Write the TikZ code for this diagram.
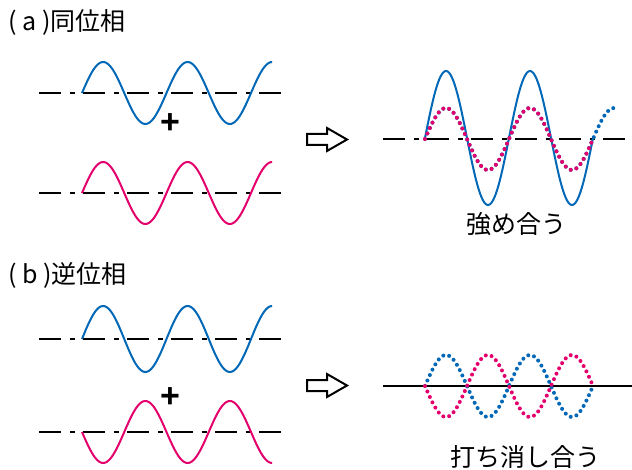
\documentclass[tikz,border=0pt]{standalone}
\usepackage{fontspec}
\setmainfont{Noto Sans CJK JP}
\newfontfamily\plusfont{Liberation Sans}
\definecolor{waveblue}{RGB}{0,104,183}
\definecolor{wavepink}{RGB}{228,0,108}
\tikzset{
  axisdash/.style={line width=1pt, dash pattern=on 11pt off 4.5pt on 2.5pt off 4pt},
  bluewave/.style={waveblue, line width=1pt},
  pinkwave/.style={wavepink, line width=1pt},
  bluedots/.style={waveblue, line width=2pt, line cap=round, dash pattern=on 0pt off 3pt},
  pinkdots/.style={wavepink, line width=2pt, line cap=round, dash pattern=on 0pt off 3pt},
  fatarrow/.style={line width=1pt, fill=white, line join=miter},
  jtext/.style={font=\fontsize{12.5}{14}\selectfont, inner sep=0pt},
  plus/.style={font=\plusfont\bfseries\fontsize{17}{17}\selectfont, inner sep=0pt}
}
\begin{document}
\begin{tikzpicture}[x=0.5pt,y=-0.5pt]
        \useasboundingbox (0,0) rectangle (632,470);
        % (a) axes
        \draw[axisdash] (39,93) -- (289,93);
        \draw[axisdash] (39,193) -- (289,193);
        \draw[axisdash] (383,139) -- (632,139);
        % (a) waves
        \draw[bluewave] plot[domain=0:2.25, samples=120] ({82+84.5*\x},{93-31*sin(360*\x)});
        \draw[pinkwave] plot[domain=0:2.25, samples=120] ({82+84.5*\x},{193-31*sin(360*\x)});
        \draw[bluewave] plot[domain=0:2, samples=120] ({425+84*\x},{138-67*sin(360*\x)});
        \draw[bluedots] plot[domain=0:2.25, samples=120] ({425+84*\x},{139-31*sin(360*\x)});
        \draw[pinkdots] plot[domain=0:2, samples=120] ({425+84*\x},{139-31*sin(360*\x)});
        % (a) arrow
        \draw[fatarrow] (307,134) -- (327,134) -- (327,128) -- (347,139.5) -- (327,151) -- (327,145) -- (307,145) -- cycle;

        % (b) axes
        \draw[axisdash] (39,339) -- (289,339);
        \draw[axisdash] (39,432) -- (289,432);
        \draw[line width=1pt] (383,386) -- (632,386);
        % (b) waves
        \draw[bluewave] plot[domain=0:2.25, samples=120] ({82+84.5*\x},{339-33*sin(360*\x)});
        \draw[pinkwave] plot[domain=0:2.25, samples=120] ({82+84.5*\x},{432+31*sin(360*\x)});
        \draw[bluedots] plot[domain=0:2, samples=120] ({425+84*\x},{386-31*sin(360*\x)});
        \draw[pinkdots] plot[domain=0:2, samples=120] ({425+84*\x},{386+31*sin(360*\x)});
        % (b) arrow
        \draw[fatarrow] (307,380) -- (327,380) -- (327,374) -- (347,385.5) -- (327,397) -- (327,391) -- (307,391) -- cycle;

        % letters
        \node[jtext, anchor=west] (titlea) at (8,22) {( a )同位相};
        \node[jtext, anchor=west] (titleb) at (8,275) {( b )逆位相};
        \node[plus] (plusa) at (170,124) {+};
        \node[plus] (plusb) at (170,398) {+};
        \node[jtext] (strong) at (516,224) {強め合う};
        \node[jtext] (cancel) at (525,457) {打ち消し合う};
    \end{tikzpicture}
\end{document}
